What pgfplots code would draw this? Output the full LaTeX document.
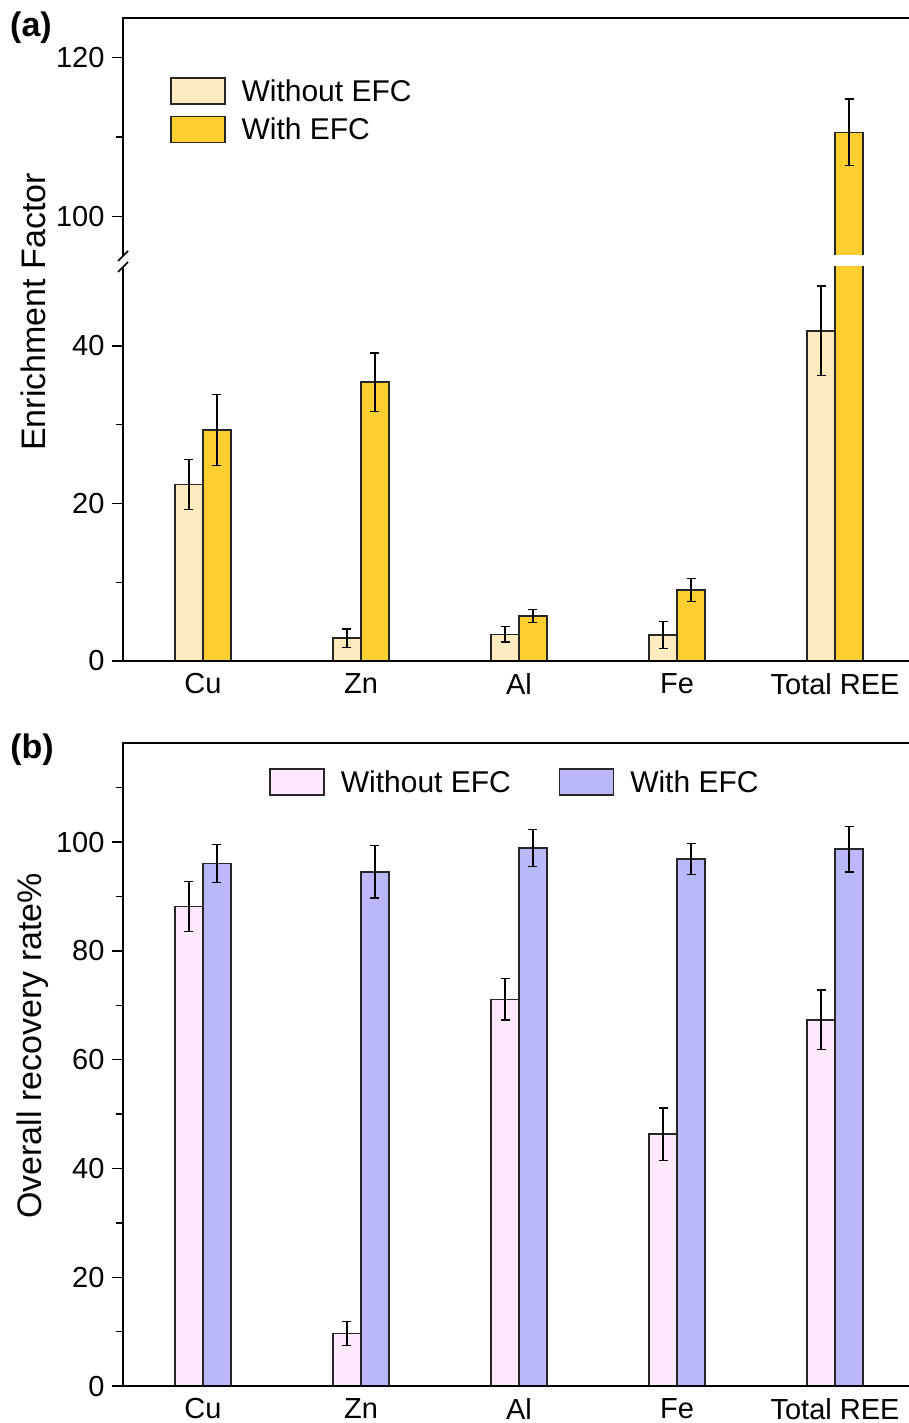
\documentclass[border=0pt]{standalone}
\usepackage{fontspec}
\setmainfont{Liberation Sans}
\usepackage{pgfplots}
\pgfplotsset{compat=1.18}
\usepackage{pgfplotstable}

\definecolor{wo}{RGB}{255,235,189}
\definecolor{wi}{RGB}{255,207,48}
\definecolor{wob}{RGB}{253,232,253}
\definecolor{wib}{RGB}{184,184,250}

\pgfplotstableread{
x y e
0 22.4 3.2
1 2.9 1.15
2 3.4 1.0
3 3.3 1.75
4 41.9 5.7
}\aWo
\pgfplotstableread{
x y e
0 29.3 4.5
1 35.4 3.7
2 5.7 0.8
3 9.0 1.45
4 110.6 4.2
}\aWi
\pgfplotstableread{
x y e
4 110.6 4.2
}\aWiTop
\pgfplotstableread{
x y e
0 88.2 4.6
1 9.7 2.2
2 71.1 3.8
3 46.3 4.8
4 67.3 5.5
}\bWo
\pgfplotstableread{
x y e
0 96.0 3.5
1 94.5 4.8
2 98.9 3.4
3 96.9 2.85
4 98.7 4.2
}\bWi

\pgfplotsset{
  base/.style={
    scale only axis, width=792pt, xmin=-0.506, xmax=4.506,
    axis line style={draw=none},
    tick align=outside, tick pos=left,
    major tick length=11pt, minor tick length=7pt,
    every tick/.style={black, line width=1.4pt},
    xtick={0,...,4}, xticklabels={Cu,Zn,Al,Fe,Total REE},
    x tick style={draw=none},
    ticklabel style={font=\fontsize{29}{34}\selectfont},
    yticklabel style={xshift=-4pt},
    xticklabel style={yshift=2pt},
    /pgf/number format/assume math mode=true,
    clip mode=individual,
    ybar, bar width=0.177,
    legend image code/.code={\draw[##1] (0pt,-13pt) rectangle (54pt,13pt); \path (70pt,0pt);},
  },
  bars/.style={draw=black!85, line width=1.4pt, fill=#1,
    error bars/.cd, y dir=both, y explicit,
    error bar style={line width=1.3pt, black},
    error mark options={rotate=90, mark size=4.5pt, line width=1.3pt, black}},
}

\begin{document}
\begin{tikzpicture}[x=1pt,y=1pt]
\useasboundingbox (0,0) rectangle (909,-1423);

% ---- (a) upper part
\begin{axis}[base, at={(123pt,-256pt)}, anchor=south west, height=238pt,
  ymin=95, ymax=125, ytick={100,120}, minor ytick={110}, xtick=\empty,
  legend style={at={(0.0593,0.752)}, anchor=north west, draw=none, fill=none,
    inner sep=0pt, row sep=11pt, font=\fontsize{30}{36}\selectfont,
    nodes={inner sep=0pt}},
  legend cell align=left]
\addlegendimage{draw=black!85, line width=1.4pt, fill=wo}
\addlegendimage{draw=black!85, line width=1.4pt, fill=wi}
\addplot[bar shift=0.0885, bars=wi] table[x=x,y=y,y error=e]{\aWiTop};
\legend{Without EFC, With EFC}
\fill[white] (rel axis cs:0.85,0) ++(0pt,-3pt) rectangle ++(120pt,4.2pt);
\draw[line width=1.8pt] (rel axis cs:0,0) -- (rel axis cs:0,1) -- (rel axis cs:1,1);
\draw[line width=1.6pt] (rel axis cs:0,0) ++(-5pt,-5pt) -- ++(10pt,10pt);
\end{axis}

% ---- (a) lower part
\begin{axis}[base, at={(123pt,-661pt)}, anchor=south west, height=394pt,
  ymin=0, ymax=50, ytick={0,20,40}, minor ytick={10,30}]
\addplot[bar shift=-0.0885, bars=wo] table[x=x,y=y,y error=e]{\aWo};
\addplot[bar shift=0.0885, bars=wi] table[x=x,y=y,y error=e]{\aWi};
\draw[line width=1.8pt] (rel axis cs:0,1) -- (rel axis cs:0,0) -- (rel axis cs:1,0);
\draw[line width=1.6pt] (rel axis cs:0,1) ++(-5pt,-5pt) -- ++(10pt,10pt);
\end{axis}

% ---- (b)
\begin{axis}[base, at={(123pt,-1386pt)}, anchor=south west, height=643pt,
  ymin=0, ymax=118.2, ytick={0,20,...,100}, minor ytick={10,30,...,110},
  legend style={at={(0.4937,0.961)}, anchor=north, draw=none, fill=none,
    inner sep=0pt, font=\fontsize{30}{36}\selectfont,
    nodes={inner sep=0pt},
    /tikz/every even column/.append style={column sep=48pt}},
  legend columns=2, legend cell align=left]
\addplot[bar shift=-0.0885, bars=wob] table[x=x,y=y,y error=e]{\bWo};
\addplot[bar shift=0.0885, bars=wib] table[x=x,y=y,y error=e]{\bWi};
\legend{Without EFC, With EFC}
\draw[line width=1.8pt] (rel axis cs:1,1) -- (rel axis cs:0,1) -- (rel axis cs:0,0) -- (rel axis cs:1,0);
\end{axis}

\node[rotate=90, font=\fontsize{34}{40}\selectfont] at (33,-312) {Enrichment Factor};
\node[rotate=90, font=\fontsize{34}{40}\selectfont] at (33,-1046) {Overall recovery rate\%};
\node[font=\bfseries\fontsize{34}{40}\selectfont] at (31,-28) {(a)};
\node[font=\bfseries\fontsize{34}{40}\selectfont] at (32,-750) {(b)};
\end{tikzpicture}
\end{document}
